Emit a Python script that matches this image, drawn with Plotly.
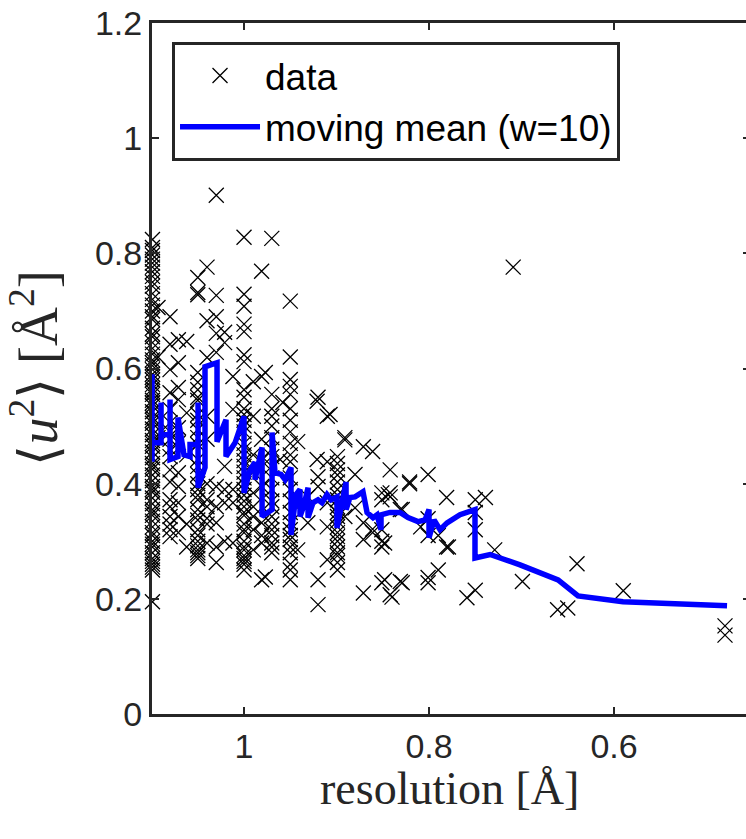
import plotly.graph_objects as go

# ---- scatter data: resolution columns (Å) and <u^2> values (Å^2) ----
col_res = [1.099, 1.093, 1.080, 1.071, 1.062, 1.050, 1.040, 1.030, 1.021, 1.012,
           1.000, 0.990, 0.981, 0.977, 0.970, 0.961, 0.958, 0.950, 0.942, 0.931,
           0.921, 0.920, 0.910, 0.907, 0.899, 0.891, 0.880, 0.871, 0.861, 0.851,
           0.848, 0.844, 0.842, 0.840, 0.831, 0.829, 0.821, 0.809, 0.801, 0.790,
           0.781, 0.779, 0.759, 0.750, 0.739, 0.729, 0.709, 0.699, 0.661, 0.650,
           0.640, 0.590, 0.480]
col_u2 = [
    [0.824, 0.810, 0.805, 0.797, 0.790, 0.783, 0.776, 0.768, 0.760, 0.750, 0.743,
     0.730, 0.720, 0.710, 0.700, 0.690, 0.685, 0.670, 0.660, 0.655, 0.645, 0.635,
     0.625, 0.615, 0.610, 0.605, 0.598, 0.590, 0.585, 0.580, 0.572, 0.565, 0.560,
     0.555, 0.545, 0.540, 0.535, 0.525, 0.515, 0.510, 0.505, 0.495, 0.485, 0.475,
     0.470, 0.465, 0.455, 0.445, 0.435, 0.430, 0.425, 0.415, 0.405, 0.395, 0.390,
     0.385, 0.375, 0.365, 0.355, 0.350, 0.345, 0.335, 0.325, 0.315, 0.310, 0.300,
     0.295, 0.290, 0.280, 0.270, 0.265, 0.260, 0.255, 0.250, 0.195],
    [0.706, 0.620, 0.480],
    [0.690, 0.642, 0.598, 0.558, 0.529, 0.506, 0.490, 0.477, 0.460, 0.447, 0.424,
     0.403, 0.372, 0.360, 0.343, 0.330, 0.320, 0.308],
    [0.650, 0.610, 0.567, 0.546, 0.497, 0.471, 0.419, 0.395, 0.367, 0.343, 0.315],
    [0.647, 0.523, 0.450, 0.330, 0.290],
    [0.758, 0.732, 0.728, 0.593, 0.576, 0.563, 0.550, 0.545, 0.520, 0.510, 0.494,
     0.480, 0.468, 0.442, 0.430, 0.416, 0.400, 0.390, 0.380, 0.372, 0.355, 0.345,
     0.337, 0.320, 0.310, 0.300, 0.292, 0.285, 0.280, 0.275, 0.270],
    [0.776, 0.683, 0.619, 0.517, 0.477, 0.400, 0.372, 0.360, 0.340, 0.330, 0.297],
    [0.901, 0.727, 0.690, 0.661, 0.628, 0.395, 0.360, 0.332, 0.290, 0.263],
    [0.663, 0.645, 0.430, 0.390, 0.367, 0.300],
    [0.586, 0.529, 0.390, 0.367, 0.297],
    [0.828, 0.729, 0.708, 0.677, 0.664, 0.624, 0.612, 0.563, 0.550, 0.530, 0.520,
     0.510, 0.500, 0.490, 0.470, 0.460, 0.450, 0.440, 0.430, 0.420, 0.410, 0.400,
     0.390, 0.380, 0.370, 0.360, 0.350, 0.345, 0.330, 0.320, 0.315, 0.300, 0.290,
     0.285, 0.275, 0.270, 0.265, 0.260, 0.250],
    [0.577, 0.517, 0.450, 0.420, 0.384, 0.360, 0.343, 0.320, 0.285],
    [0.769, 0.586, 0.477, 0.440, 0.395, 0.332, 0.310, 0.297, 0.233],
    [0.593, 0.238],
    [0.826, 0.555, 0.530, 0.517, 0.500, 0.480, 0.460, 0.447, 0.430, 0.410, 0.390,
     0.370, 0.360, 0.343, 0.330, 0.320, 0.310, 0.297, 0.290, 0.280],
    [0.442],
    [0.541],
    [0.717, 0.620, 0.581, 0.569, 0.555, 0.530, 0.510, 0.490, 0.470, 0.450, 0.438,
     0.410, 0.390, 0.370, 0.350, 0.332, 0.320, 0.310, 0.303, 0.290, 0.280, 0.260,
     0.250, 0.233],
    [0.473, 0.285],
    [0.377, 0.332],
    [0.543, 0.442],
    [0.550, 0.412, 0.395, 0.233, 0.190],
    [0.517, 0.438, 0.367, 0.325, 0.268],
    [0.520],
    [0.447, 0.435, 0.424, 0.415, 0.403, 0.390, 0.380, 0.372, 0.360, 0.350, 0.343,
     0.335, 0.325, 0.315, 0.308, 0.300, 0.290, 0.280, 0.275, 0.263, 0.250],
    [0.480, 0.476, 0.343],
    [0.416, 0.358],
    [0.464, 0.332, 0.303, 0.210],
    [0.456, 0.321, 0.315],
    [0.384, 0.372, 0.320, 0.300, 0.290, 0.228],
    [0.297, 0.233],
    [0.381],
    [0.424, 0.384, 0.377, 0.207],
    [0.203],
    [0.355, 0.230],
    [0.355, 0.228],
    [0.403, 0.400],
    [0.325],
    [0.416, 0.339, 0.310, 0.237, 0.228],
    [0.310, 0.250],
    [0.376, 0.290],
    [0.290],
    [0.202],
    [0.372, 0.350, 0.320, 0.215],
    [0.376],
    [0.285],
    [0.776],
    [0.230],
    [0.181],
    [0.184],
    [0.261],
    [0.214],
    [0.153, 0.137],
]

res = []
u2 = []
for xv, ys in zip(col_res, col_u2):
    res += [xv] * len(ys)
    u2 += ys

# ---- moving mean (w=10) path ----
mm_res = [1.0995, 1.0995, 1.0995, 1.0897, 1.0897, 1.0897, 1.080, 1.080, 1.080, 1.0714,
          1.0714, 1.0649, 1.0584, 1.0584, 1.0497, 1.0497, 1.0497, 1.0422, 1.0422, 1.0346,
          1.0292, 1.0292, 1.0195, 1.0195, 1.0097, 1.000, 1.000, 0.9935, 0.9881, 0.9881,
          0.9805, 0.9805, 0.9697, 0.9697, 0.9665, 0.960, 0.9557, 0.9492, 0.9492, 0.9438,
          0.9395, 0.9395, 0.9351, 0.9308, 0.9308, 0.9254, 0.920, 0.9157, 0.9103, 0.9059,
          0.8995, 0.8995, 0.8951, 0.8897, 0.8897, 0.8854, 0.880, 0.8714, 0.867, 0.8605,
          0.8562, 0.8519, 0.8519, 0.8422, 0.8314, 0.8227, 0.8119, 0.8043, 0.800, 0.800,
          0.7946, 0.7881, 0.7805, 0.7665, 0.7503, 0.7503, 0.734, 0.7016, 0.6605, 0.6389,
          0.5903, 0.4778]
mm_u2 = [0.438, 0.590, 0.471, 0.471, 0.541, 0.485, 0.485, 0.546, 0.442, 0.447,
         0.515, 0.450, 0.447, 0.468, 0.468, 0.541, 0.393, 0.428, 0.603, 0.607,
         0.610, 0.473, 0.511, 0.447, 0.471, 0.517, 0.384, 0.424, 0.437, 0.407,
         0.463, 0.343, 0.355, 0.489, 0.419, 0.416, 0.407, 0.428, 0.311, 0.381,
         0.390, 0.343, 0.363, 0.393, 0.341, 0.367, 0.372, 0.367, 0.381, 0.372,
         0.377, 0.323, 0.363, 0.403, 0.355, 0.376, 0.377, 0.386, 0.350, 0.341,
         0.346, 0.320, 0.346, 0.350, 0.350, 0.341, 0.334, 0.337, 0.355, 0.306,
         0.337, 0.320, 0.332, 0.346, 0.355, 0.271, 0.277, 0.259, 0.233, 0.205,
         0.195, 0.188]

x_ticks = [1.0, 0.8, 0.6]
x_ticktext = ["1", "0.8", "0.6"]
y_ticks = [0, 0.2, 0.4, 0.6, 0.8, 1.0, 1.2]
y_ticktext = ["0", "0.2", "0.4", "0.6", "0.8", "1", "1.2"]

AX = "#262626"
SANS = "Liberation Sans, Arial, Helvetica, sans-serif"
SERIF = "Liberation Serif, Times New Roman, serif"

fig = go.Figure()
fig.add_trace(go.Scatter(
    x=res, y=u2, mode="markers", name="data", cliponaxis=False,
    marker=dict(symbol="x-thin", size=15, color="black",
                line=dict(width=1.3, color="black")),
))
fig.add_trace(go.Scatter(
    x=mm_res, y=mm_u2, mode="lines", name="moving mean (w=10)", cliponaxis=False,
    line=dict(color="#0000ff", width=5.5),
))
fig.add_trace(go.Scatter(x=[], y=[], yaxis="y2", showlegend=False, hoverinfo="skip"))

axis_common = dict(
    ticks="inside", tickwidth=2, tickcolor=AX, showline=True, linewidth=3,
    linecolor=AX, showgrid=False, zeroline=False,
    tickfont=dict(family=SANS, size=34, color=AX),
)

fig.update_layout(
    width=746, height=839, autosize=False,
    margin=dict(l=152, r=0, t=23, b=125),
    paper_bgcolor="white", plot_bgcolor="white",
    xaxis=dict(range=[1.0995, 0.4573], tickvals=x_ticks, ticktext=x_ticktext,
               ticklen=7, mirror="ticks", **axis_common),
    yaxis=dict(range=[0, 1.2], tickvals=y_ticks, ticktext=y_ticktext,
               ticklen=7, mirror=False, **axis_common),
    yaxis2=dict(overlaying="y", side="right", anchor="x", range=[0, 1.2],
                tickvals=y_ticks, ticks="inside", ticklen=3, tickwidth=2,
                tickcolor=AX, showticklabels=False, showline=False,
                showgrid=False, zeroline=False),
    legend=dict(x=0.0337, y=0.9725, xanchor="left", yanchor="top",
                bgcolor="white", bordercolor=AX, borderwidth=3,
                font=dict(family=SANS, size=37, color="black"),
                itemwidth=80),
    showlegend=True,
    annotations=[
        dict(text="resolution [Å]", x=0.5, y=0, xref="paper", yref="paper",
             xanchor="center", yanchor="middle", yshift=-74, showarrow=False,
             font=dict(family=SERIF, size=46, color=AX)),
        dict(text="⟨<i>u</i><sup>2</sup>⟩ [Å<sup>2</sup>]", x=0, y=0.5,
             xref="paper", yref="paper", xanchor="center", yanchor="middle",
             xshift=-117, textangle=-90, showarrow=False,
             font=dict(family=SERIF, size=54, color=AX)),
    ],
)

fig.write_html("out.html")
